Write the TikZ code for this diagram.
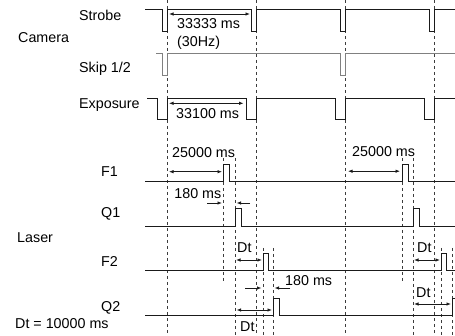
\documentclass[tikz,border=0pt]{standalone}
\usepackage{fontspec}
\setmainfont{Liberation Sans}
\usetikzlibrary{arrows.meta}
\definecolor{sigblack}{HTML}{1A1A1A}
\definecolor{skipgrey}{HTML}{808080}
\definecolor{dashgrey}{HTML}{3C3C3C}

\begin{document}
\begin{tikzpicture}[x=1pt, y=-1pt,
  sig/.style={draw=sigblack, line width=1pt},
  tline/.style={draw=dashgrey, line width=0.8pt, dash pattern=on 3.5pt off 2.5pt},
  dim/.style={{Latex[length=4.5pt,width=3.5pt]}-{Latex[length=4.5pt,width=3.5pt]}, line width=0.8pt, sigblack},
  tip/.style={-{Latex[length=4.5pt,width=3.5pt]}, line width=0.8pt, sigblack},
  lbl/.style={font=\fontsize{14.3}{16}\selectfont, inner sep=0pt, anchor=base west},
]
\useasboundingbox (0,0) rectangle (455,336);

% Camera frame lines (dashed, full height)
\foreach \t in {167,256,345,434}
  \draw[tline] (\t,0) -- (\t,336);

% Laser timing lines
\foreach \t in {223,402} \draw[tline] (\t,158) -- (\t,283);
\foreach \t in {235,413} \draw[tline] (\t,158) -- (\t,336);
\foreach \t in {263,441,273,452} \draw[tline] (\t,248) -- (\t,336);

% Group labels
\node[lbl] (camera) at (18,43) {Camera};
\node[lbl] (laser) at (17,243) {Laser};
\node[lbl] (dtval) at (15,329) {Dt = 10000 ms};

% Strobe
\node[lbl] (strobe) at (79,20.5) {Strobe};
\draw[sig] (145,9.3) -- (162,9.3) -- (162,31.5) -- (167,31.5) -- (167,9.3)
  -- (251,9.3) -- (251,31.5) -- (256,31.5) -- (256,9.3)
  -- (340,9.3) -- (340,31.5) -- (345,31.5) -- (345,9.3)
  -- (429,9.3) -- (429,31.5) -- (434,31.5) -- (434,9.3) -- (455,9.3);
\draw[dim] (169,14) -- (250,14);
\node[lbl] (period) at (177,29) {33333 ms};
\node[lbl] (rate) at (177,47) {(30Hz)};

% Skip 1/2
\node[lbl] (skip) at (79,73) {Skip 1/2};
\draw[sig, draw=skipgrey] (156,53.3) -- (162,53.3) -- (162,76) -- (167,76) -- (167,53.3)
  -- (340,53.3) -- (340,76) -- (345,76) -- (345,53.3) -- (455,53.3);

% Exposure
\node[lbl] (expo) at (79,108.3) {Exposure};
\draw[sig] (147,98.3) -- (157,98.3) -- (157,120) -- (167,120) -- (167,98.3)
  -- (246,98.3) -- (246,120) -- (256,120) -- (256,98.3)
  -- (335,98.3) -- (335,120) -- (345,120) -- (345,98.3)
  -- (424,98.3) -- (424,120) -- (434,120) -- (434,98.3) -- (455,98.3);
\draw[dim] (169,103.3) -- (243.5,103.3);
\node[lbl] (expotime) at (176,119) {33100 ms};

% F1
\node[lbl] (f1) at (101,177) {F1};
\draw[sig] (145,181.5) -- (223,181.5) -- (223,165) -- (229,165) -- (229,181.5)
  -- (402,181.5) -- (402,165) -- (408,165) -- (408,181.5) -- (455,181.5);
\draw[dim] (169,171.7) -- (222,171.7);
\draw[dim] (348,171.2) -- (400,171.2);
\node[lbl] (delayA) at (172,157.5) {25000 ms};
\node[lbl] (delayB) at (352,157) {25000 ms};

% Q1 (180 ms after F1)
\node[lbl] (q1) at (101,218) {Q1};
\draw[sig] (145,226.7) -- (235,226.7) -- (235,209) -- (241,209) -- (241,226.7)
  -- (413,226.7) -- (413,209) -- (419,209) -- (419,226.7) -- (455,226.7);
\node[lbl, anchor=base east] (gapA) at (221.5,199) {180 ms};
\draw[tip] (207,203) -- (222,203);
\draw[tip] (250,203) -- (236.5,203);

% F2
\node[lbl] (f2) at (101,267) {F2};
\draw[sig] (145,271) -- (263,271) -- (263,254) -- (268,254) -- (268,271)
  -- (441,271) -- (441,254) -- (446,254) -- (446,271) -- (455,271);
\draw[dim] (236,260) -- (262,260);
\draw[dim] (414,260) -- (440,260);
\node[lbl] (dtA) at (237,253) {Dt};
\node[lbl] (dtB) at (417,253) {Dt};

% Q2 (180 ms after F2)
\node[lbl] (q2) at (101,312) {Q2};
\draw[sig] (145,315.7) -- (273,315.7) -- (273,299) -- (279,299) -- (279,315.7)
  -- (452,315.7) -- (452,299) -- (455,299);
\node[lbl] (gapB) at (285,286) {180 ms};
\draw[tip] (245,288) -- (261.5,288);
\draw[tip] (290,288) -- (274.5,288);
\draw[dim] (236.5,310) -- (272,310);
\draw[dim] (414,304) -- (451,304);
\node[lbl] (dtC) at (240,332) {Dt};
\node[lbl] (dtD) at (416,298) {Dt};
\end{tikzpicture}
\end{document}
